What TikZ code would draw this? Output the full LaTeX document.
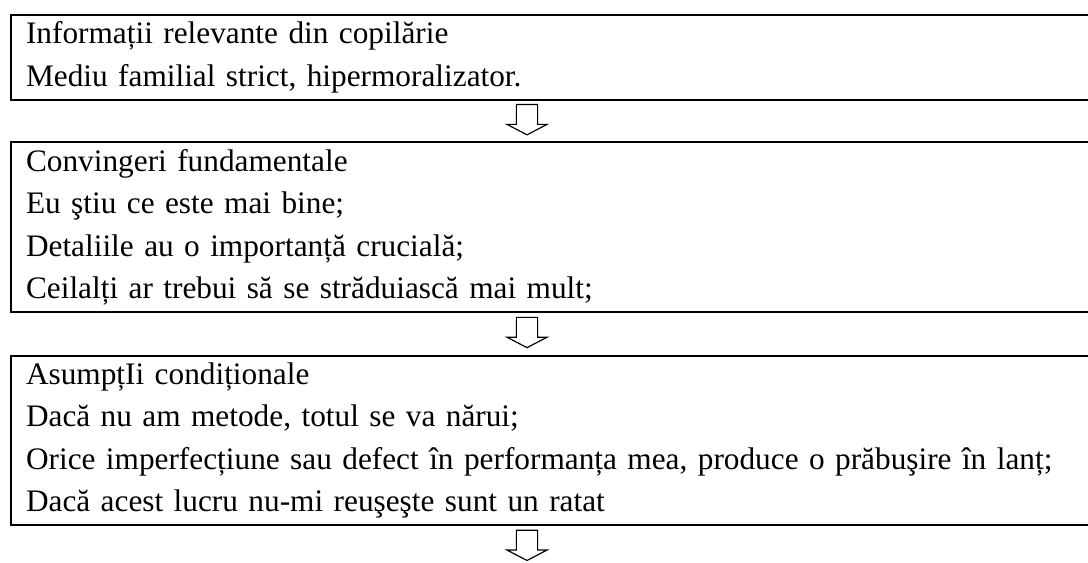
\documentclass[tikz,border=0pt]{standalone}
\usepackage{fontspec}
\setmainfont{Liberation Serif}
\usetikzlibrary{positioning,shapes.arrows}

\begin{document}
\begin{tikzpicture}[
x=0.3834pt,
y=-0.3834pt,
box/.style={
draw,
line width=0.8pt,
anchor=north west,
align=left,
text width=406pt,
inner xsep=5.75pt,
inner ysep=0pt,
font=\fontsize{12}{16.3}\selectfont
},
downarr/.style={
draw,
single arrow,
shape border rotate=270,
line width=0.45pt,
minimum height=11.6pt,
inner sep=3.85pt,
single arrow head extend=3.6pt,
single arrow tip angle=125,
anchor=tail
}
]

\useasboundingbox (0,0) rectangle (1088,563);
\clip (0,0) rectangle (1088,563);

\node[box, minimum height=32.4pt] (B1) at (10,14)
{Informații relevante din copilărie\\
Mediu familial strict, hipermoralizator.};

\node[box, minimum height=65.2pt, below=15.6pt of B1.south west, anchor=north west] (B2)
{Convingeri fundamentale\\
Eu ştiu ce este mai bine;\\
Detaliile au o importanță crucială;\\
Ceilalți ar trebui să se străduiască mai mult;};

\node[box, minimum height=65pt, below=15.8pt of B2.south west, anchor=north west] (B3)
{AsumpțIi condiționale\\
Dacă nu am metode, totul se va nărui;\\
Orice imperfecțiune sau defect în performanța mea, produce o prăbuşire în lanț;\\
Dacă acest lucru nu-mi reuşeşte sunt un ratat};

\coordinate (axis) at (527,0);

\node[downarr, yshift=-1.3pt] (A1) at (axis |- B1.south) {};
\node[downarr, yshift=-1.3pt] (A2) at (axis |- B2.south) {};
\node[downarr, yshift=-1.3pt] (A3) at (axis |- B3.south) {};

\end{tikzpicture}
\end{document}
